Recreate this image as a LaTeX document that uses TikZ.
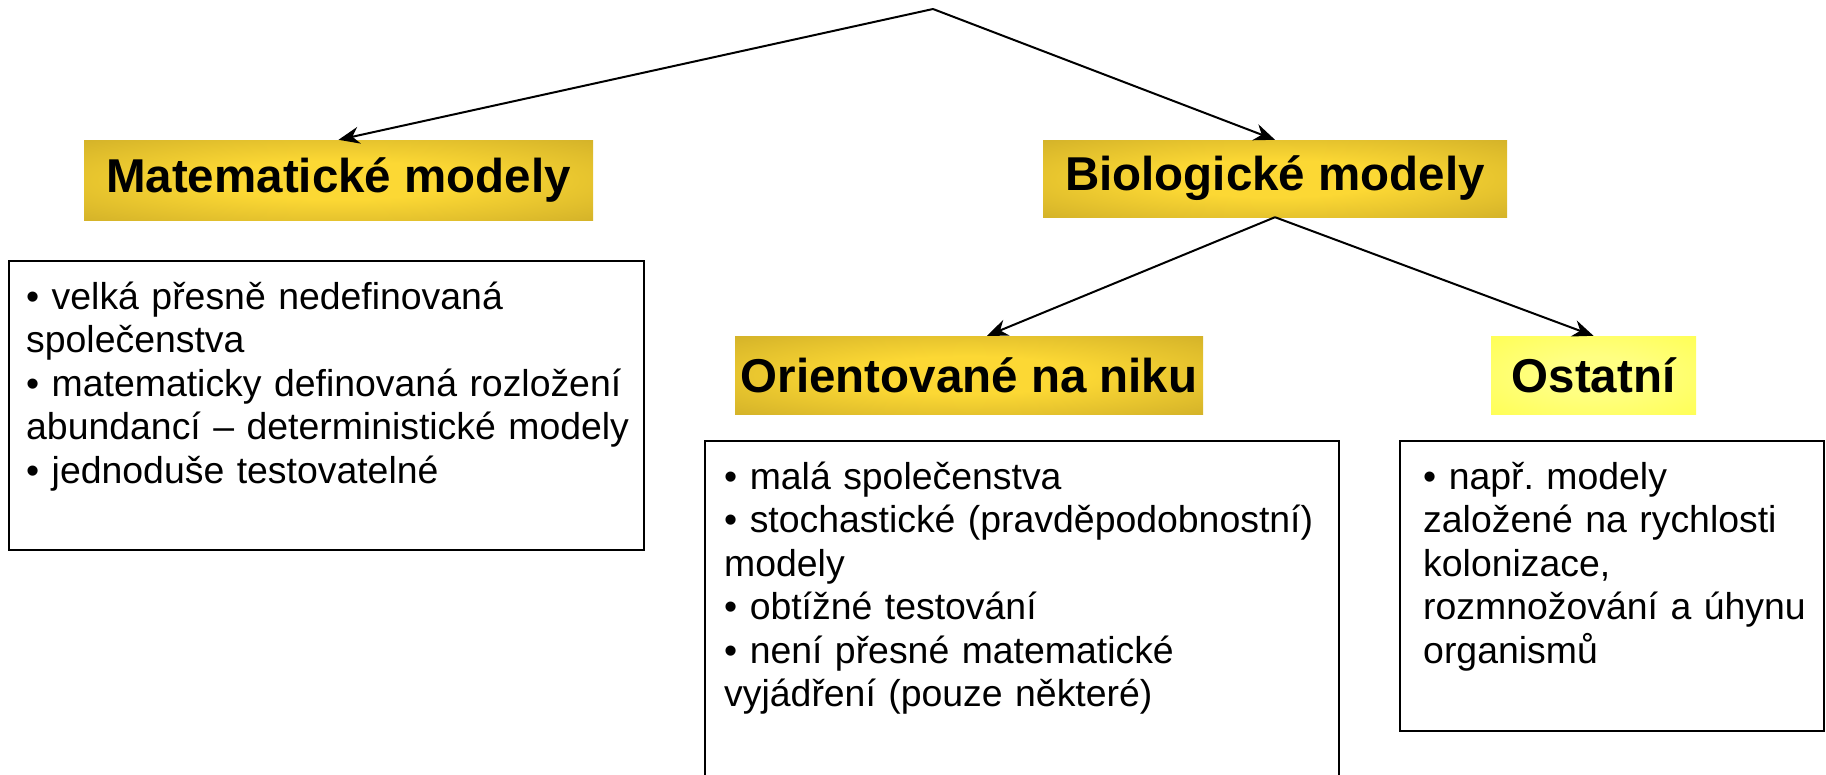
\documentclass[tikz,border=0pt]{standalone}
\usepackage{fontspec}
\setmainfont{Liberation Sans}
\usetikzlibrary{arrows.meta}

\definecolor{golddark}{RGB}{188,156,34}
\definecolor{goldlight}{RGB}{252,216,52}
\definecolor{yellowdark}{RGB}{255,255,60}
\definecolor{yellowlight}{RGB}{255,255,130}

% bright middle, darker rim
\pgfdeclareradialshading{goldbar}{\pgfpoint{0bp}{0bp}}{color(0bp)=(goldlight); color(12bp)=(goldlight); color(50bp)=(golddark); color(72bp)=(golddark)}
\pgfdeclareradialshading{yellowbar}{\pgfpoint{0bp}{0bp}}{color(0bp)=(yellowlight); color(12bp)=(yellowlight); color(50bp)=(yellowdark); color(72bp)=(yellowdark)}

\begin{document}
\frenchspacing
\begin{tikzpicture}[
    x=1pt, y=-1pt,
    head/.style={rectangle, shade, shading=goldbar, inner sep=0pt, font=\fontsize{47.5pt}{57pt}\selectfont\bfseries},
    otherhead/.style={head, shading=yellowbar},
    listbox/.style={rectangle, draw, line width=2.5pt, inner sep=0pt},
    listtext/.style={anchor=base west, inner sep=0pt, align=left, font=\fontsize{37.4pt}{43.5pt}\selectfont},
    arrow/.style={-{Stealth[length=21pt,width=17pt]}, line width=2pt}
]
    \useasboundingbox (0,0) rectangle (1826,774);
    \coordinate (top) at (933,9);

    \node[head, minimum width=509pt, minimum height=80pt] (mat) at (338.5,180) {Matematické modely};
    \node[head, minimum width=464pt, minimum height=77pt] (bio) at (1275,178.5) {Biologické modely};
    \node[head, minimum width=468pt, minimum height=78pt] (niche) at (969,375) {Orientované na niku};
    \node[otherhead, minimum width=205pt, minimum height=78pt] (other) at (1593.5,375) {Ostatní};

    \node[listbox, minimum width=635pt, minimum height=289pt] (matbox) at (326.5,405.5) {};
    \node[listbox, minimum width=634pt, minimum height=349pt] (nichebox) at (1022,615.5) {};
    \node[listbox, minimum width=424pt, minimum height=290pt] (otherbox) at (1612,586) {};

    \node[listtext, text width=615pt] (mattext) at (26,309)
        {• velká přesně nedefinovaná\\společenstva\\• matematicky definovaná rozložení\\abundancí – deterministické modely\\• jednoduše testovatelné};
    \node[listtext, text width=610pt] (nichetext) at (724,489)
        {• malá společenstva\\• stochastické (pravděpodobnostní)\\modely\\• obtížné testování\\• není přesné matematické\\vyjádření (pouze některé)};
    \node[listtext, text width=395pt] (othertext) at (1423,489)
        {• např. modely\\založené na rychlosti\\kolonizace,\\rozmnožování a úhynu\\organismů};

    \draw[arrow] (top) -- (mat.north);
    \draw[arrow] (top) -- (bio.north);
    \draw[arrow] (bio.south) -- ([xshift=18pt]niche.north);
    \draw[arrow] (bio.south) -- (other.north);
\end{tikzpicture}
\end{document}
